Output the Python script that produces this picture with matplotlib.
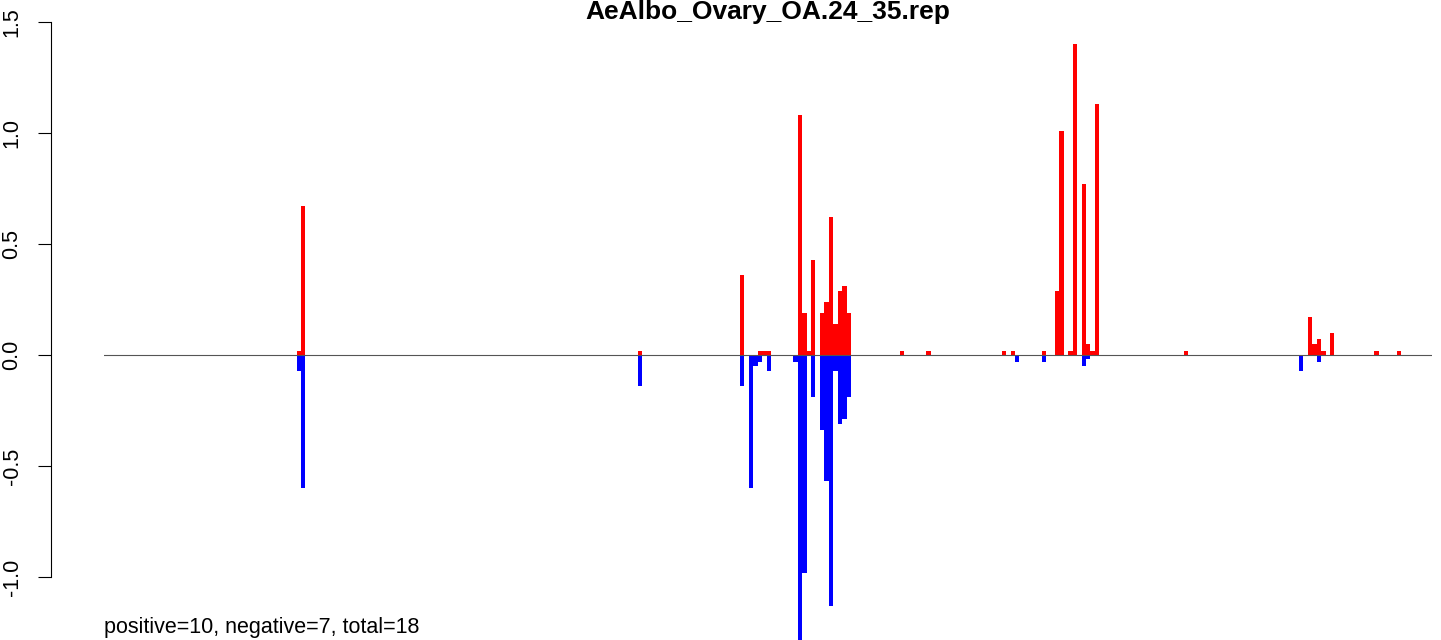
import matplotlib
matplotlib.use("Agg")
import matplotlib.pyplot as plt

# bins with positive (red) and negative (blue) scores
pos_bins = [44, 45, 121, 144, 148, 149, 150, 157, 158, 159, 160, 162, 163, 164, 165, 166, 167, 168,
            180, 186, 203, 205, 212, 215, 216, 218, 219, 221, 222, 223, 224, 244,
            272, 273, 274, 275, 277, 287, 292]
pos_values = [0.02, 0.67, 0.02, 0.36, 0.02, 0.02, 0.02, 1.08, 0.19, 0.02, 0.43, 0.19, 0.24, 0.62, 0.14, 0.29, 0.31, 0.19,
              0.02, 0.02, 0.02, 0.02, 0.02, 0.29, 1.01, 0.02, 1.40, 0.77, 0.05, 0.02, 1.13, 0.02,
              0.17, 0.05, 0.07, 0.02, 0.10, 0.02, 0.02]
neg_bins = [44, 45, 121, 144, 146, 147, 148, 150, 156, 157, 158, 160, 162, 163, 164, 165, 166, 167, 168,
            206, 212, 221, 222, 270, 274]
neg_values = [-0.07, -0.60, -0.14, -0.14, -0.60, -0.05, -0.03, -0.07, -0.03, -1.30, -0.98, -0.19, -0.34, -0.57, -1.13, -0.07, -0.31, -0.29, -0.19,
              -0.03, -0.03, -0.05, -0.02, -0.07, -0.03]
yticks = [-1.0, -0.5, 0.0, 0.5, 1.0, 1.5]
title = "AeAlbo_Ovary_OA.24_35.rep"
summary = "positive=10, negative=7, total=18"

plt.rcParams['font.family'] = ['Liberation Sans', 'DejaVu Sans']

fig = plt.figure(figsize=(14.41, 6.4), dpi=100)
ax = fig.add_axes([104/1441, 0, (1432-104)/1441, 1])

ax.bar(pos_bins, pos_values, width=1, align='edge', color='red', linewidth=0)
ax.bar(neg_bins, neg_values, width=1, align='edge', color='blue', linewidth=0)
ax.axhline(0, color='#555555', lw=0.8)

ax.set_xlim(0.6, 300.0)
ax.set_ylim(-1.284, 1.599)

for s in ['top', 'right', 'bottom']:
    ax.spines[s].set_visible(False)
ax.spines['left'].set_position(('outward', 38.2))
ax.spines['left'].set_bounds(-1.0, 1.5)
ax.spines['left'].set_linewidth(0.8)
ax.set_xticks([])
ax.set_yticks(yticks)
ax.set_yticklabels(["%.1f" % v for v in yticks], rotation=90, va='center')
ax.tick_params(axis='y', length=9.4, width=0.8, pad=11, labelsize=15.5)

# kept just inside the edges so nothing gets cut off
fig.text(768/1441, 1 - 19/640, title, ha='center', va='baseline', fontsize=19, fontweight='bold')
fig.text(104/1441, 7/640, summary, ha='left', va='baseline', fontsize=15.5)

fig.savefig("out.png", dpi=100)
